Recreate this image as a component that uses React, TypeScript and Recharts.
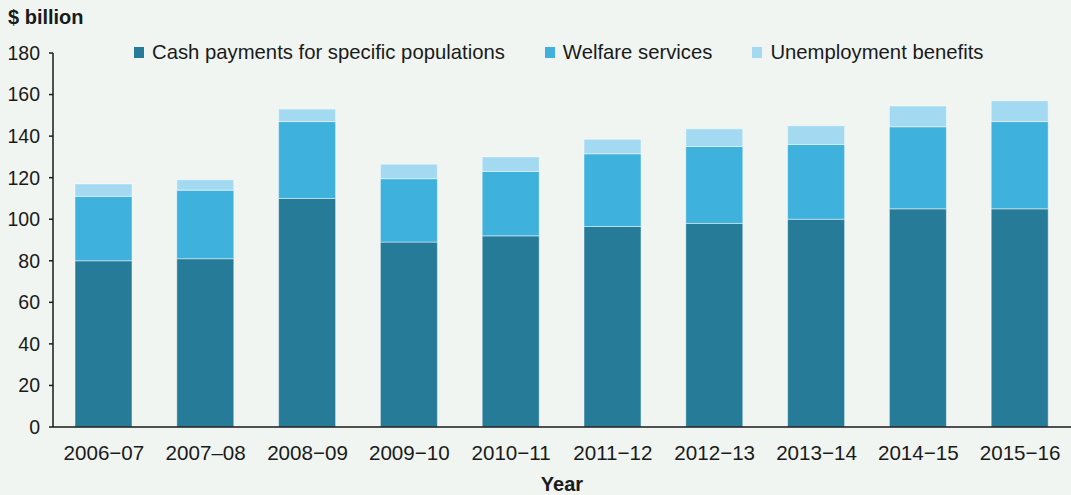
import { BarChart, Bar, XAxis, YAxis } from 'recharts'

const years = ['2006−07', '2007–08', '2008−09', '2009−10', '2010−11', '2011−12', '2012−13', '2013−14', '2014−15', '2015−16']
const cashPayments = [80, 81, 110, 89, 92, 96.5, 98, 100, 105, 105]
const welfareServices = [31, 33, 37, 30.5, 31, 35, 37, 36, 39.5, 42]
const unemploymentBenefits = [6, 5, 6, 7, 7, 7, 8.5, 9, 10, 10]
const yTicks = [0, 20, 40, 60, 80, 100, 120, 140, 160, 180]

const series = [
  { key: 'cash', name: 'Cash payments for specific populations', color: '#267b98' },
  { key: 'welfare', name: 'Welfare services', color: '#3eb1dc' },
  { key: 'unemp', name: 'Unemployment benefits', color: '#a3daf2' },
]

const data = years.map((y, i) => ({
  year: y,
  cash: cashPayments[i],
  welfare: welfareServices[i],
  unemp: unemploymentBenefits[i],
}))

const font = '"Liberation Sans", Arial, sans-serif'

function LegendBox() {
  return (
    <div style={{ position: 'absolute', top: 41, left: 134, display: 'flex', fontFamily: font, fontSize: 20.3, color: '#1a1a1a', lineHeight: '22px' }}>
      {series.map(s => (
        <div key={s.key} style={{ display: 'flex', alignItems: 'center', marginRight: 40 }}>
          <span style={{ width: 10, height: 11, background: s.color, marginRight: 8, display: 'inline-block' }} />
          <span>{s.name}</span>
        </div>
      ))}
    </div>
  )
}

export default function App() {
  return (
    <div style={{ position: 'absolute', top: 0, left: 0, width: 1071, height: 495, background: '#f0f5f1' }}>
      <BarChart width={1071} height={495} data={data} margin={{ top: 53, right: 0, left: 0, bottom: 0 }} barSize={57}>
        <XAxis
          dataKey="year"
          height={68}
          tickLine={false}
          tickMargin={12}
          axisLine={{ stroke: '#1a1a1a', strokeWidth: 1.5 }}
          tick={{ fill: '#1a1a1a', fontSize: 20.6, fontFamily: font }}
          interval={0}
          label={{ value: 'Year', position: 'insideBottom', offset: 4, style: { fill: '#1a1a1a', fontSize: 20, fontWeight: 'bold', fontFamily: font } }}
        />
        <YAxis
          width={53}
          domain={[0, 180]}
          ticks={yTicks}
          interval={0}
          tickSize={4}
          tickMargin={9}
          axisLine={{ stroke: '#1a1a1a', strokeWidth: 1.5 }}
          tickLine={{ stroke: '#1a1a1a', strokeWidth: 1.5 }}
          tick={{ fill: '#1a1a1a', fontSize: 19.5, fontFamily: font }}
        />
        {series.map(s => (
          <Bar
            key={s.key}
            dataKey={s.key}
            name={s.name}
            stackId="a"
            fill={s.color}
            stroke="rgba(255,255,255,0.45)"
            strokeWidth={1}
            isAnimationActive={false}
          />
        ))}
      </BarChart>
      <div style={{ position: 'absolute', left: 8, top: 6, fontFamily: font, fontSize: 20, fontWeight: 'bold', color: '#1a1a1a' }}>
        $ billion
      </div>
      <LegendBox />
    </div>
  )
}
